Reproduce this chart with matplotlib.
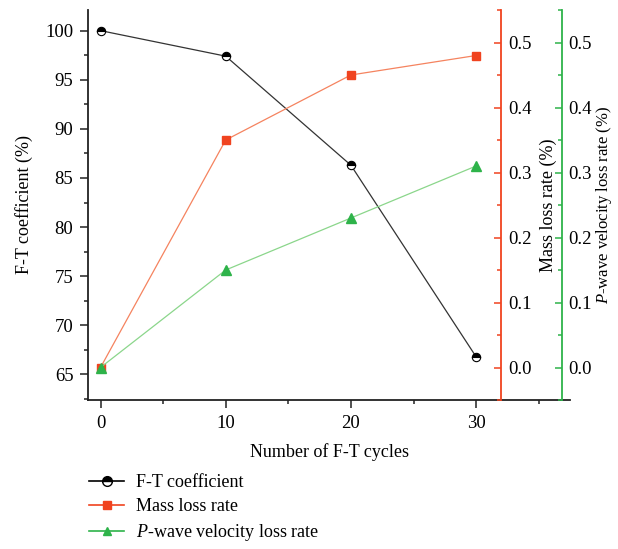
import numpy as np
import matplotlib
matplotlib.use("Agg")
import matplotlib.pyplot as plt
from matplotlib.ticker import MultipleLocator

plt.rcParams['font.family'] = ['Liberation Serif', 'DejaVu Serif']
plt.rcParams['mathtext.fontset'] = 'custom'
plt.rcParams['mathtext.it'] = 'Liberation Serif:italic'
plt.rcParams['mathtext.rm'] = 'Liberation Serif'
plt.rcParams['font.size'] = 13
plt.rcParams['xtick.labelsize'] = 13.5
plt.rcParams['ytick.labelsize'] = 13.5

# freeze-thaw test results
cycles = [0, 10, 20, 30]
ft_coef = [100.0, 97.4, 86.3, 66.8]
mass_loss = [0.0, 0.35, 0.45, 0.48]
pwave_loss = [0.0, 0.15, 0.23, 0.31]

RED = '#f0431f'
RED_LINE = '#f5835f'
GREEN = '#2eb34a'
GREEN_LINE = '#8bd68b'

fig = plt.figure(figsize=(6.18, 5.49), dpi=100)
ax = fig.add_axes([88 / 618, 1 - 400 / 549, 482 / 618, 390 / 549])

l1, = ax.plot(cycles, ft_coef, color='#333333', lw=0.9, marker='o', ms=6,
              fillstyle='top', markerfacecolor='black', markerfacecoloralt='white',
              markeredgecolor='black', markeredgewidth=0.8, zorder=5)
ax.set_xlim(-1.0, 37.5)
ax.set_ylim(62.4, 102.1)
ax.spines['top'].set_visible(False)
ax.spines['right'].set_visible(False)
for s in ('left', 'bottom'):
    ax.spines[s].set_linewidth(1.3)
    ax.spines[s].set_color('#222222')
ax.xaxis.set_major_locator(MultipleLocator(10))
ax.xaxis.set_minor_locator(MultipleLocator(5))
ax.yaxis.set_major_locator(MultipleLocator(5))
ax.yaxis.set_minor_locator(MultipleLocator(2.5))
ax.tick_params(which='major', length=5.5, width=1.1, color='#222222', pad=5)
ax.tick_params(which='minor', length=2.8, width=1.1, color='#222222')
ax.set_xticks([0, 10, 20, 30])
ax.set_xlabel('Number of F-T cycles', labelpad=8)
ax.set_ylabel('F-T coefficient (%)', labelpad=9)


def side_axis(pos, color, pad):
    tw = ax.twinx()
    for s in ('left', 'top', 'bottom'):
        tw.spines[s].set_visible(False)
    tw.spines['right'].set_position(('data', pos))
    tw.spines['right'].set_color(color)
    tw.spines['right'].set_linewidth(1.3)
    tw.set_ylim(-0.05, 0.55)
    tw.yaxis.set_major_locator(MultipleLocator(0.1))
    tw.yaxis.set_minor_locator(MultipleLocator(0.05))
    tw.tick_params(axis='y', which='both', direction='in', color=color, width=1.1)
    tw.tick_params(axis='y', which='major', length=5, pad=pad)
    tw.tick_params(axis='y', which='minor', length=3)
    return tw


ax2 = side_axis(32, RED, 5)
l2, = ax2.plot(cycles, mass_loss, color=RED_LINE, lw=0.9, marker='s', ms=6,
               markerfacecolor=RED, markeredgecolor=RED, zorder=4)
ax2.set_ylabel('Mass loss rate (%)', labelpad=6)

ax3 = side_axis(36.9, GREEN, 4)
l3, = ax3.plot(cycles, pwave_loss, color=GREEN_LINE, lw=0.9, marker='^', ms=7,
               markerfacecolor=GREEN, markeredgecolor=GREEN, zorder=4)
ax3.set_ylabel('$P$-wave velocity loss rate (%)', labelpad=2, fontsize=12)

leg_handles = [
    plt.Line2D([], [], color='black', lw=1.2, marker='o', ms=7, fillstyle='top',
               markerfacecolor='black', markerfacecoloralt='white',
               markeredgecolor='black'),
    plt.Line2D([], [], color=RED, lw=1.2, marker='s', ms=6,
               markerfacecolor=RED, markeredgecolor=RED),
    plt.Line2D([], [], color=GREEN, lw=1.2, marker='^', ms=6,
               markerfacecolor=GREEN, markeredgecolor=GREEN),
]
fig.legend(leg_handles,
           ['F-T coefficient', 'Mass loss rate', '$P$-wave velocity loss rate'],
           loc='upper left', bbox_to_anchor=(73 / 618, 1 - 458 / 549),
           frameon=False, handlelength=1.95, handletextpad=0.66, labelspacing=0.38)

fig.savefig('out.png', dpi=100)
